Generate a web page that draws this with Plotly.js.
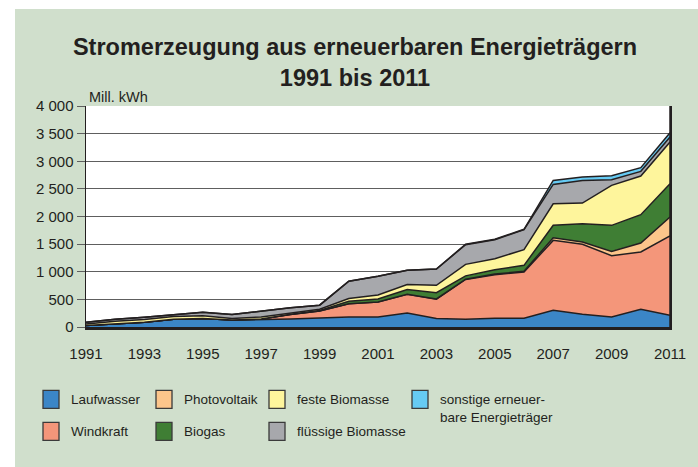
<!DOCTYPE html>
<html>
<head>
<meta charset="utf-8">
<script src="https://cdn.plot.ly/plotly-3.0.1.min.js"></script>
<style>
  html, body { margin: 0; padding: 0; background: #ffffff; }
  #chart { position: absolute; left: 15px; top: 9px; width: 683px; height: 458px; }
</style>
</head>
<body>
<div id="chart"></div>
<script>
// ---- Data (Mill. kWh) ----
const years = [1991, 1992, 1993, 1994, 1995, 1996, 1997, 1998, 1999, 2000, 2001,
               2002, 2003, 2004, 2005, 2006, 2007, 2008, 2009, 2010, 2011];
const laufwasser   = [25, 55, 85, 140, 155, 125, 133, 145, 165, 181, 181, 255, 155, 140, 160, 157, 302, 229, 181, 320, 211];
const windkraft    = [0, 0, 0, 0, 0, 3, 12, 80, 124, 241, 271, 336, 350, 720, 787, 838, 1266, 1267, 1110, 1037, 1436];
const photovoltaik = [0, 0, 0, 0, 0, 0, 0, 0, 0, 0, 1, 2, 3, 5, 12, 12, 48, 42, 78, 163, 344];
const biogas       = [0, 0, 0, 0, 0, 0, 0, 5, 11, 43, 53, 84, 113, 60, 78, 109, 224, 332, 471, 513, 603];
const festeBiomasse    = [30, 49, 50, 50, 50, 27, 36, 23, 20, 50, 74, 93, 133, 209, 199, 283, 391, 373, 723, 699, 754];
const fluessigeBiomasse = [30, 35, 40, 35, 60, 70, 109, 97, 75, 315, 340, 255, 296, 355, 344, 362, 350, 410, 102, 85, 91];
const sonstige     = [0, 0, 0, 0, 0, 0, 0, 0, 0, 0, 0, 0, 0, 8, 8, 8, 72, 61, 74, 66, 75];

const seriesNames = ["Laufwasser", "Windkraft", "Photovoltaik", "Biogas",
                     "feste Biomasse", "flüssige Biomasse", "sonstige erneuer-<br>bare Energieträger"];
const seriesValues = [laufwasser, windkraft, photovoltaik, biogas, festeBiomasse, fluessigeBiomasse, sonstige];
const seriesColors = ["#3b86c7", "#f4967a", "#fcc58b", "#3f7e34", "#fef59c", "#a7a8ac", "#66cbf4"];

const titleText = "Stromerzeugung aus erneuerbaren Energieträgern<br>1991 bis 2011";
const unitText = "Mill. kWh";
const xTicks = [1991, 1993, 1995, 1997, 1999, 2001, 2003, 2005, 2007, 2009, 2011];
const yTicks = [0, 500, 1000, 1500, 2000, 2500, 3000, 3500, 4000];

// legend grid: [column, row] for each series
const legendSlots = [[0, 0], [0, 1], [1, 0], [1, 1], [2, 0], [2, 1], [3, 0.5]];

// ---- Layout geometry (px in the chart div) ----
const W = 683, H = 458;
const M = {l: 71, r: 28, t: 96.7, b: 140.3};
const PW = W - M.l - M.r, PH = H - M.t - M.b;
const px2x = px => (px - M.l) / PW;
const py2y = py => (H - M.b - py) / PH;

const DARK = "#231f20";
const FONT = "Liberation Sans, Arial, sans-serif";

const traces = seriesValues.map((vals, i) => ({
  type: "scatter",
  mode: "lines",
  x: years,
  y: vals,
  name: seriesNames[i],
  stackgroup: "one",
  fillcolor: seriesColors[i],
  line: {color: DARK, width: 1.5, shape: "linear"},
  showlegend: false,
  hoverinfo: "x+y+name"
}));

// manual legend
const legColX = [28, 141, 254, 397];
const legRowY = [381, 413];
const shapes = [];
const annotations = [];
seriesNames.forEach((nm, i) => {
  const [c, r] = legendSlots[i];
  const rowTop = r === 0.5 ? legRowY[0] : legRowY[r];
  shapes.push({
    type: "rect", xref: "paper", yref: "paper",
    x0: px2x(legColX[c]), x1: px2x(legColX[c] + 16),
    y0: py2y(rowTop), y1: py2y(rowTop + 18),
    fillcolor: seriesColors[i], line: {color: "#3a3a3a", width: 1.3}
  });
  const cy = r === 0.5 ? (legRowY[0] + 9 + 9) : legRowY[r] + 9;
  annotations.push({
    xref: "paper", yref: "paper",
    x: px2x(legColX[c] + 26), y: py2y(cy),
    xanchor: "left", yanchor: "middle", align: "left",
    text: nm, showarrow: false,
    font: {family: FONT, size: 13.5, color: DARK}
  });
});
annotations.push({
  xref: "paper", yref: "paper",
  x: px2x(72), y: py2y(88),
  xanchor: "left", yanchor: "middle",
  text: unitText, showarrow: false,
  font: {family: FONT, size: 14.5, color: DARK}
});

const layout = {
  width: W, height: H,
  margin: M,
  paper_bgcolor: "#d0dfcc",
  plot_bgcolor: "#ffffff",
  separators: ", ",
  font: {family: FONT, color: DARK},
  title: {
    text: titleText,
    font: {family: FONT, size: 23.5, color: DARK, weight: "bold"},
    x: 0.5 + (355 - 15 - W / 2) / W, xanchor: "center",
    y: 1 - (55 - 9) / H, yanchor: "middle", yref: "container"
  },
  xaxis: {
    range: [1991, 2011],
    tickvals: xTicks,
    ticktext: xTicks.map(String),
    showgrid: false, zeroline: false,
    showline: true, linecolor: DARK, linewidth: 2.5, mirror: false,
    ticks: "", ticklabelstandoff: 11,
    tickfont: {family: FONT, size: 15, color: DARK}
  },
  yaxis: {
    range: [0, 4000],
    tickvals: yTicks,
    tickformat: ",d",
    showgrid: true, gridcolor: "#5e5e5e", gridwidth: 1,
    zeroline: false,
    showline: true, linecolor: DARK, linewidth: 1.5, mirror: true,
    ticks: "outside", ticklen: 8, tickcolor: "#5e5e5e", tickwidth: 1,
    tickfont: {family: FONT, size: 15, color: DARK}
  },
  shapes: shapes.concat([{
    type: "line", xref: "paper", yref: "paper",
    x0: 1, x1: 1, y0: 0, y1: 1, line: {color: DARK, width: 1.5}
  }]),
  annotations: annotations
};

Plotly.newPlot("chart", traces, layout, {displayModeBar: false, staticPlot: true});
</script>
</body>
</html>
